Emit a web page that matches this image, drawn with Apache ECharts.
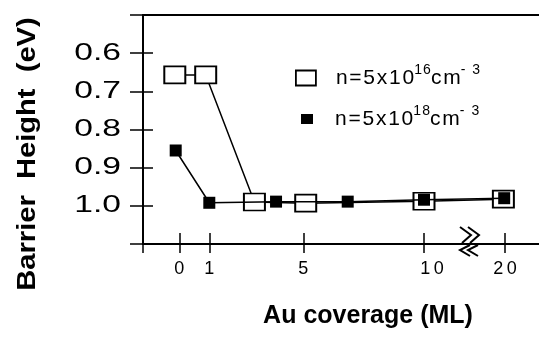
<!DOCTYPE html>
<html>
<head>
<meta charset="utf-8">
<script src="https://cdn.jsdelivr.net/npm/echarts@6/dist/echarts.min.js"></script>
<style>
  html, body { margin: 0; padding: 0; background: #fff; }
  #chart { width: 539px; height: 339px; }
</style>
</head>
<body>
<div id="chart"></div>
<script>
// Schottky barrier height versus Au coverage for two doping levels
const coverageLowDoping  = [-0.15, 0.88, 2.92, 5.1, 10, 19.8];
const barrierLowDoping   = [0.657, 0.657, 0.990, 0.993, 0.988, 0.9825];
const coverageHighDoping = [-0.12, 1, 3.84, 6.84, 10, 19.9];
const barrierHighDoping  = [0.855, 0.992, 0.989, 0.989, 0.984, 0.980];

const coverageTicks = [0, 1, 5, 10, 20];
const barrierTicks = [0.6, 0.7, 0.8, 0.9, 1.0];
const seriesNames = ['n=5x10¹⁶cm⁻³', 'n=5x10¹⁸cm⁻³'];

// Broken coverage axis: piecewise-linear map from coverage to axis units
const SCALE_COV = [0, 1, 5, 10, 20];
const SCALE_POS = [36.3, 66.3, 160.3, 281, 362];
const AXIS_MAX = 396;
const BREAK_POS = 322;

function covToAxis(c) {
  let i = 0;
  while (i < SCALE_COV.length - 2 && c > SCALE_COV[i + 1]) i++;
  const t = (c - SCALE_COV[i]) / (SCALE_COV[i + 1] - SCALE_COV[i]);
  return SCALE_POS[i] + t * (SCALE_POS[i + 1] - SCALE_POS[i]);
}

const FONT = '"Liberation Sans", Arial, Helvetica, sans-serif';
const track = (s, sp) => String(s).split('').join(sp || '\u2009');
const tickPositions = coverageTicks.map(covToAxis);

function coverageLabel(v) {
  let best = 0;
  tickPositions.forEach((p, i) => { if (Math.abs(p - v) < Math.abs(tickPositions[best] - v)) best = i; });
  const txt = track(coverageTicks[best]);
  return coverageTicks[best] === 10 ? '{r|' + txt + '}' : '{n|' + txt + '}';
}

const chart = echarts.init(document.getElementById('chart'), null, { renderer: 'canvas' });

const black = '#000';
const baseX = {
  type: 'value', min: 0, max: AXIS_MAX, gridIndex: 0,
  splitLine: { show: false }
};
const baseY = {
  type: 'value', inverse: true, min: 0.5, max: 1.1, interval: 0.1, gridIndex: 0,
  position: 'left', splitLine: { show: false }, axisLabel: { show: false }
};

const HAIR = '\u200A';
function legendText(sup, gapKey) {
  return '{' + gapKey + '| }{m|' + track('n=5x10', HAIR) + '}{s|' + track(sup, HAIR) + '}{m|c' + HAIR + 'm}{s|-\u20023}';
}
const legendRich = {
  g1: { width: 15, fontSize: 21, lineHeight: 30 },
  g2: { width: 17, fontSize: 21, lineHeight: 30 },
  m: { fontSize: 21, fontFamily: FONT, color: black, lineHeight: 30, verticalAlign: 'middle' },
  s: { fontSize: 14, fontFamily: FONT, color: black, lineHeight: 14, padding: [0, 0, 16, 0], verticalAlign: 'middle' }
};

chart.setOption({
  animation: false,
  backgroundColor: '#fff',
  grid: { left: 143, right: 0, top: 15, bottom: 95, outerBoundsMode: 'none', containLabel: false },
  xAxis: [
    Object.assign({}, baseX, {
      position: 'bottom',
      axisLine: { show: true, onZero: false, lineStyle: { color: black, width: 2 } },
      axisTick: { show: true, customValues: [0].concat(tickPositions), length: 9, lineStyle: { color: black, width: 1.5 } },
      axisLabel: {
        show: true, customValues: tickPositions, margin: 16, formatter: coverageLabel,
        rich: {
          n: { fontSize: 18, fontFamily: FONT, color: black },
          r: { fontSize: 18, fontFamily: FONT, color: black, padding: [0, 0, 0, 16] }
        }
      }
    }),
    Object.assign({}, baseX, {
      position: 'bottom',
      axisLine: { show: false, onZero: false },
      axisTick: { show: true, inside: true, customValues: tickPositions, length: 11, lineStyle: { color: black, width: 1.5 } },
      axisLabel: { show: false }
    }),
    Object.assign({}, baseX, {
      position: 'top',
      axisLine: { show: true, onZero: false, lineStyle: { color: black, width: 2 } },
      axisTick: { show: false },
      axisLabel: { show: false }
    })
  ],
  yAxis: [
    Object.assign({}, baseY, {
      axisLine: { show: true, onZero: false, lineStyle: { color: black, width: 2 } },
      axisTick: { show: true, length: 13, lineStyle: { color: black, width: 1.5 } }
    }),
    Object.assign({}, baseY, {
      axisLine: { show: false, onZero: false },
      axisTick: { show: true, inside: true, length: 10, lineStyle: { color: black, width: 1.5 } }
    })
  ],
  legend: [
    {
      left: 295, top: 63, padding: 0, orient: 'vertical', selectedMode: false,
      itemWidth: 20, itemHeight: 15,
      data: [{ name: seriesNames[0], icon: 'rect', itemStyle: { color: '#fff', borderColor: black, borderWidth: 1.8 } }],
      formatter: () => legendText('16', 'g1'),
      textStyle: { rich: legendRich }
    },
    {
      left: 301, top: 104, padding: 0, orient: 'vertical', selectedMode: false,
      itemWidth: 12, itemHeight: 10,
      data: [{ name: seriesNames[1], icon: 'rect', itemStyle: { color: black, borderWidth: 0 } }],
      formatter: () => legendText('18', 'g2'),
      textStyle: { rich: legendRich }
    }
  ],
  series: [
    {
      name: seriesNames[0], type: 'line', xAxisIndex: 0, yAxisIndex: 0, z: 2,
      data: coverageLowDoping.map((c, i) => [covToAxis(c), barrierLowDoping[i]]),
      symbol: 'rect', symbolSize: [21, 17], showSymbol: true,
      itemStyle: { color: '#fff', borderColor: black, borderWidth: 1.8 },
      lineStyle: { color: black, width: 1.5 },
      emphasis: { disabled: true }, silent: true
    },
    {
      name: seriesNames[1], type: 'line', xAxisIndex: 0, yAxisIndex: 0, z: 3,
      data: coverageHighDoping.map((c, i) => [covToAxis(c), barrierHighDoping[i]]),
      symbol: 'rect', symbolSize: [12, 12], showSymbol: true,
      itemStyle: { color: black },
      lineStyle: { color: black, width: 1.5 },
      emphasis: { disabled: true }, silent: true
    }
  ]
});

// Tick labels, axis titles and the axis-break mark, placed from the axis scales
const axisX = chart.convertToPixel({ xAxisIndex: 0 }, 0);
const axisY = chart.convertToPixel({ yAxisIndex: 0 }, 1.1);
const bx = chart.convertToPixel({ xAxisIndex: 0 }, BREAK_POS);

const graphics = barrierTicks.map(v => ({
  type: 'text', z: 10,
  x: axisX - 22, y: chart.convertToPixel({ yAxisIndex: 0 }, v), scaleX: 1.4,
  style: {
    text: v.toFixed(1), fontSize: 24, fontFamily: FONT, fill: black,
    align: 'right', verticalAlign: 'middle', textAlign: 'right', textVerticalAlign: 'middle'
  }
}));

graphics.push({
  type: 'text', z: 10, x: 28, y: 154, rotation: Math.PI / 2, scaleX: 1.12,
  style: {
    text: 'Barrier  Height  (eV)', fontSize: 26, fontWeight: 'bold', fontFamily: FONT, fill: black,
    align: 'center', verticalAlign: 'middle', textAlign: 'center', textVerticalAlign: 'middle'
  }
});
graphics.push({
  type: 'text', z: 10, x: 368, y: 316,
  style: {
    text: 'Au coverage (ML)', fontSize: 25, fontWeight: 'bold', fontFamily: FONT, fill: black,
    align: 'center', verticalAlign: 'middle', textAlign: 'center', textVerticalAlign: 'middle'
  }
});

// Break mark: two chevrons above the axis, two below
for (let k = 0; k < 2; k++) {
  const o = 8 * k;
  graphics.push({
    type: 'polyline', z: 10,
    shape: { points: [[bx - 5 + o, axisY - 17], [bx + 6 + o, axisY - 9], [bx - 3 + o, axisY - 1]] },
    style: { stroke: black, lineWidth: 2, fill: null }
  });
  graphics.push({
    type: 'polyline', z: 10,
    shape: { points: [[bx + 5 + o, axisY + 1], [bx - 5 + o, axisY + 6], [bx + 5 + o, axisY + 12]] },
    style: { stroke: black, lineWidth: 2, fill: null }
  });
}

chart.setOption({ graphic: graphics });
</script>
</body>
</html>
